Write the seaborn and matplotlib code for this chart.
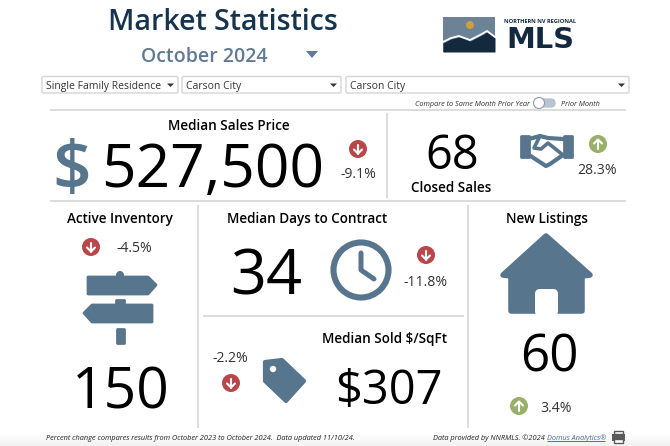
"""Market statistics dashboard, drawn on a pixel-sized canvas."""
import matplotlib.pyplot as plt
import numpy as np
import seaborn as sns
from matplotlib.patches import Circle, Ellipse, FancyBboxPatch, Polygon, Rectangle

# values
title = "Market Statistics"
period = "October 2024"
filters = ["Single Family Residence", "Carson City", "Carson City"]
metric_names = ["Median Sales Price", "Closed Sales", "Active Inventory",
                "Median Days to Contract", "Median Sold $/SqFt", "New Listings"]
metric_values = ["527,500", "68", "150", "34", "$307", "60"]
metric_changes = [-9.1, 28.3, -4.5, -11.8, -2.2, 3.4]
footer_left = "Percent change compares results from October 2023 to October 2024.  Data updated 11/10/24."
footer_right = "Data provided by NNRMLS. ©2024"
footer_link = "Domus Analytics®"

NAVY = "#17344f"
SLATE = "#607a94"
ICON = "#58758e"
RED = "#b8474a"
GREEN = "#97b06a"
RULE = "#dcdcdc"

sns.set_theme(style="white")
plt.rcParams["font.family"] = ["Open Sans", "DejaVu Sans"]

fig = plt.figure(figsize=(6.7, 4.46), dpi=100)
ax = fig.add_axes([0, 0, 1, 1])
ax.set_xlim(0, 670)
ax.set_ylim(446, 0)
ax.axis("off")


def px(size):
    return size * 0.72


def label(x, y, text, size, color="black", weight="normal", ha="center", style="normal"):
    return ax.text(x, y, text, fontsize=px(size), color=color, fontweight=weight,
                   ha=ha, va="center_baseline", fontstyle=style)


def rule(x0, y0, x1, y1, color=RULE, lw=1.4):
    ax.plot([x0, x1], [y0, y1], color=color, lw=lw, solid_capstyle="butt")


def badge(x, y, change):
    up = change > 0
    ax.add_patch(Circle((x, y), 9, color=GREEN if up else RED, lw=0))
    d = -1 if up else 1
    ax.plot([x, x], [y - 4.5 * d, y + 4.5 * d], color="white", lw=1.5)
    ax.plot([x - 4, x, x + 4], [y + 0.5 * d, y + 4.5 * d, y + 0.5 * d], color="white", lw=1.5)


def pct(change):
    return f"{change:.1f}%"


def shape(points, color=ICON, lw=2):
    ax.add_patch(Polygon(points, closed=True, facecolor=color, edgecolor=color,
                         lw=lw, joinstyle="round"))


def dropdown(x0, x1, text):
    ax.add_patch(FancyBboxPatch((x0, 76.5), x1 - x0, 16.5, boxstyle="round,pad=0,rounding_size=1.5",
                                facecolor="white", edgecolor="#d4d4d4", lw=1))
    label(x0 + 4, 85, text, 10.4, color="#333333", ha="left")
    ax.add_patch(Polygon([(x1 - 11, 83.5), (x1 - 4, 83.5), (x1 - 7.5, 87)], color="#333333", lw=0))


# header
label(223, 19, title, 28.6, color=NAVY, weight="semibold")
label(204, 54, period, 19.5, color=SLATE, weight="semibold")
ax.add_patch(Polygon([(306, 51), (318, 51), (312, 58)], color=SLATE, lw=0))

# logo
ax.add_patch(Rectangle((443, 17), 52, 35, color="#6c8296", lw=0))
ax.add_patch(Ellipse((470, 25), 8, 8, color="#c9a03d", lw=0))
ridge_x = np.array([443, 451, 459, 470, 480, 487, 495])
ridge_y = np.array([43, 39, 37, 41, 36, 32, 38])
ax.fill_between(ridge_x, ridge_y, 52, color="#13293d", lw=0)
ax.plot(ridge_x, ridge_y - 1, color="white", lw=1.3)
label(540, 21, "NORTHERN NV REGIONAL", 5.7, color="#13293d", weight="bold")
ax.text(540, 37.5, "MLS", fontsize=px(29), color="#13293d", fontweight="bold", family="DejaVu Sans",
        ha="center", va="center_baseline")

# filters
dropdown(42, 178, filters[0])
dropdown(182, 341, filters[1])
dropdown(346, 629, filters[2])
label(530, 103, "Compare to Same Month Prior Year", 7.4, color="#333333", ha="right", style="italic")
ax.add_patch(FancyBboxPatch((539, 99), 16, 8, boxstyle="round,pad=0,rounding_size=4",
                            facecolor="#b9c4d0", edgecolor="#b9c4d0", lw=1))
ax.add_patch(Circle((539, 103), 5.5, facecolor="white", edgecolor="#8b9cb0", lw=0.8))
label(561, 103, "Prior Month", 7.4, color="#333333", ha="left", style="italic")

# panel rules
rule(50, 110, 626, 110)
rule(50, 201, 626, 201)
rule(387, 113, 387, 198)
rule(198, 205, 198, 428)
rule(468, 205, 468, 428)
rule(203, 316, 464, 316)

# median sales price
label(229, 125, metric_names[0], 13.5, weight="semibold")
label(72, 164, "$", 68, color=ICON, weight="semibold")
label(213, 164, metric_values[0], 60.5)
badge(358, 149, metric_changes[0])
label(358, 173, pct(metric_changes[0]), 14, color="#333333")

# closed sales
label(452, 151, metric_values[1], 47)
label(451, 187, metric_names[1], 13.5, weight="semibold")
for sx, x0 in ((1, 521), (-1, 572)):
    shape([(x0, 136), (x0 + sx * 8, 136), (x0 + sx * 8, 157), (x0, 157)])
ax.plot([529, 540, 548, 563], [139, 136, 138, 139], color=ICON, lw=3)
ax.plot([529, 546, 550, 563], [155, 166, 164, 155], color=ICON, lw=3)
ax.plot([540, 534, 541, 548, 563], [136, 148, 149, 143, 155], color=ICON, lw=2.6, solid_joinstyle="round")
badge(598, 144, metric_changes[1])
label(597, 169, pct(metric_changes[1]), 14, color="#333333")

# active inventory
label(120, 217, metric_names[2], 13.5, weight="semibold")
badge(91, 247, metric_changes[2])
label(134, 247, pct(metric_changes[2]), 14, color="#333333")
ax.add_patch(Circle((120, 275), 4, color=ICON, lw=0))
shape([(88, 277), (148, 277), (156, 285), (148, 294), (88, 294)])
shape([(116, 300), (124, 300), (124, 305), (116, 305)])
shape([(92, 305), (152, 305), (152, 322), (92, 322), (84, 313)])
shape([(117, 329), (124, 329), (124, 343), (117, 343)])
label(120.5, 387, metric_values[2], 57)

# median days to contract
label(307, 217, metric_names[3], 13.5, weight="semibold")
label(266, 271, metric_values[3], 63)
ax.add_patch(Circle((361, 270), 27.5, fill=False, edgecolor=ICON, lw=4.4))
ax.plot([361, 361, 374], [253, 270, 279], color=ICON, lw=3.6, solid_capstyle="round", solid_joinstyle="round")
badge(426, 255, metric_changes[3])
label(426, 281, pct(metric_changes[3]), 14, color="#333333")

# median sold price per square foot
label(384, 337, metric_names[4], 13.5, weight="semibold")
label(230, 357, pct(metric_changes[4]), 14, color="#333333")
badge(231, 383, metric_changes[4])
shape([(265, 362), (282, 360), (304, 381), (286, 401), (265, 381)], lw=3)
ax.add_patch(Circle((273, 369), 3.2, color="white", lw=0))
label(388.5, 386, metric_values[4], 47)

# new listings
label(547, 217, metric_names[5], 13.5, weight="semibold")
shape([(546, 236), (590, 275), (582, 276), (582, 311), (511, 311), (511, 276), (503, 275)], lw=4)
ax.add_patch(FancyBboxPatch((535, 289), 23, 27, boxstyle="round,pad=0,rounding_size=5",
                            facecolor="white", edgecolor="none"))
label(549.5, 352, metric_values[5], 51)
badge(519, 406, metric_changes[5])
label(556, 406, pct(metric_changes[5]), 14, color="#333333")

# footer
ax.imshow(np.linspace(1, 0.95, 16).reshape(-1, 1), extent=(0, 670, 446, 430), cmap="gray",
          vmin=0, vmax=1, aspect="auto", zorder=0)
ax.set_xlim(0, 670)
ax.set_ylim(446, 0)
label(46, 437, footer_left, 7.4, color="#222222", ha="left", style="italic")
label(433, 437, footer_right, 7.4, color="#222222", ha="left", style="italic")
label(547, 437, footer_link, 7.4, color="#4a6f9e", ha="left", style="italic")
rule(547, 441, 605, 441, color="#4a6f9e", lw=0.7)
ax.add_patch(Rectangle((612, 434), 13, 7, color="#5a5a5a", lw=0))
ax.add_patch(Rectangle((614, 431), 9, 3, fill=False, edgecolor="#5a5a5a", lw=1))
ax.add_patch(Rectangle((614, 439), 9, 4, facecolor="white", edgecolor="#5a5a5a", lw=1))

sns.despine(ax=ax, left=True, bottom=True)
fig.savefig("out.png", dpi=100)
